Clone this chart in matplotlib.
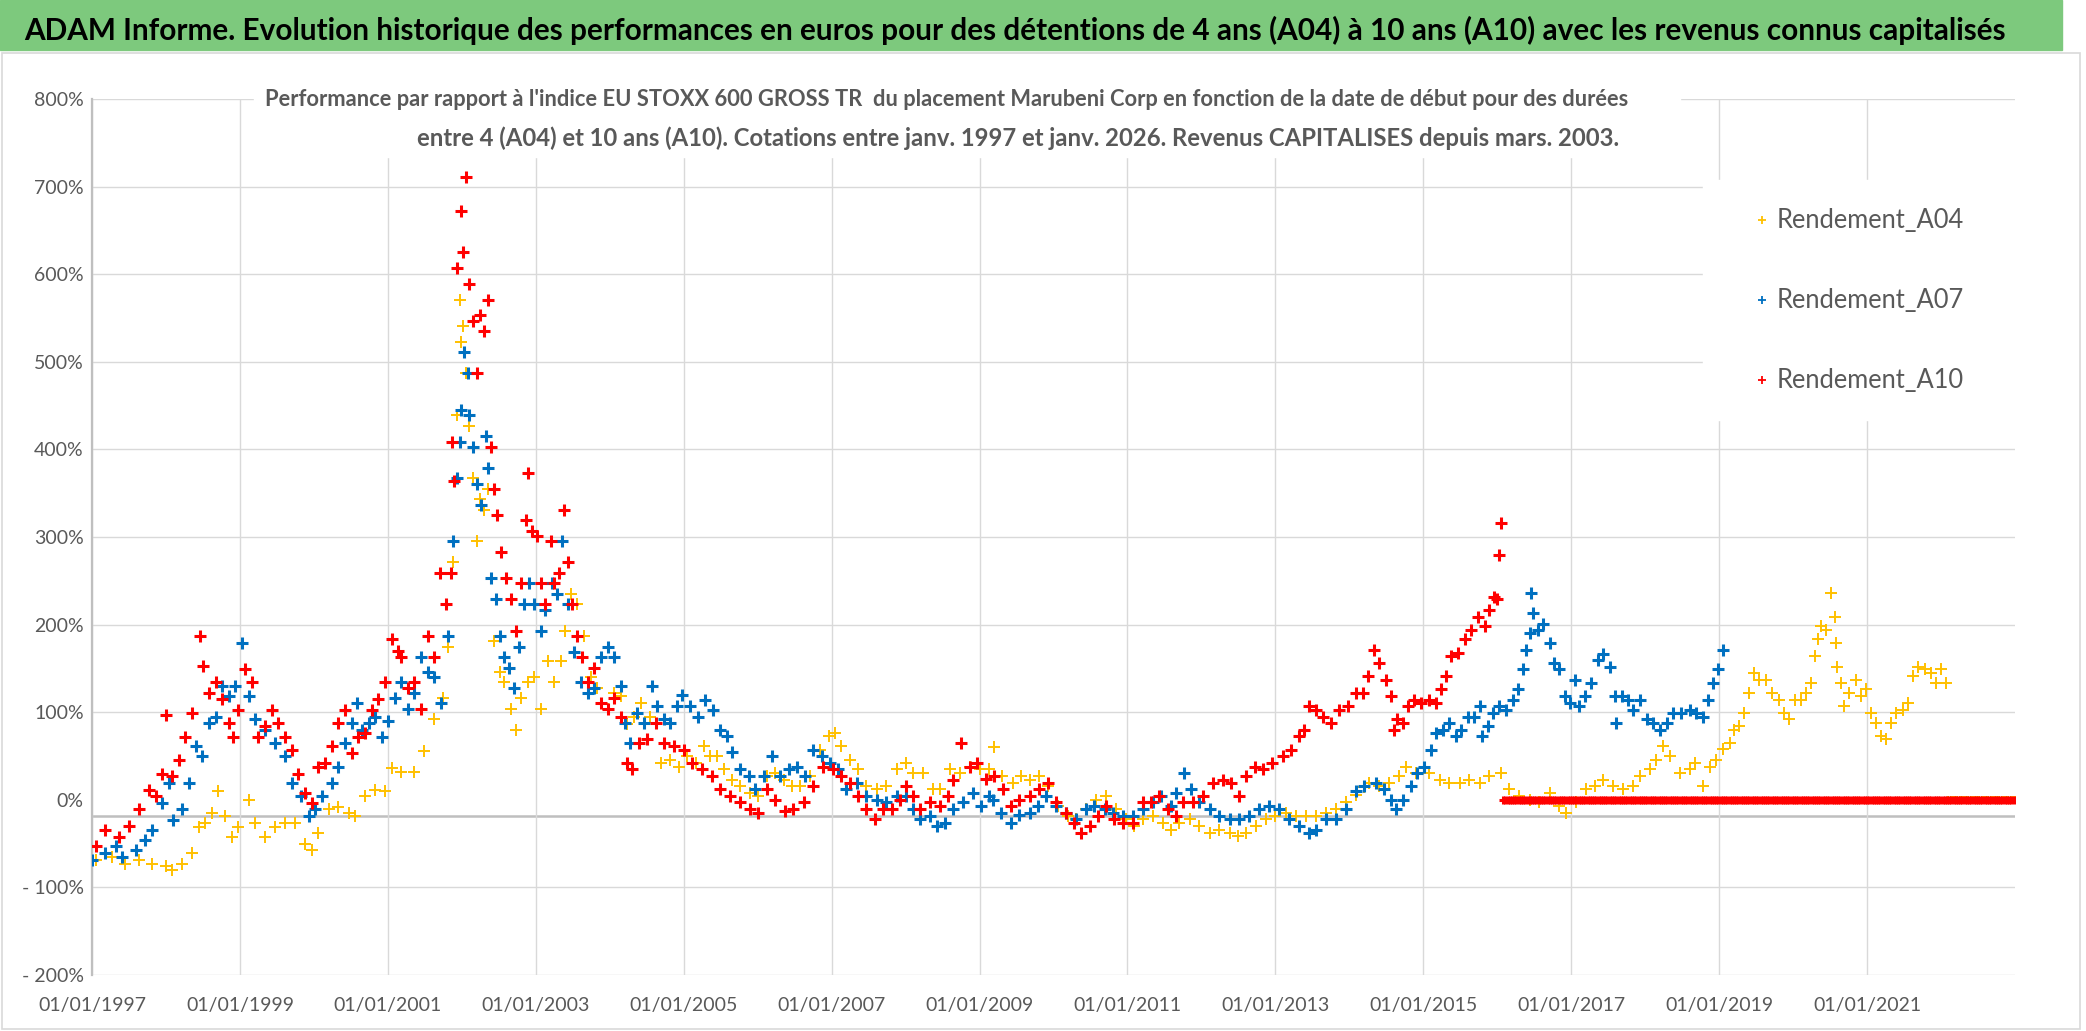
import numpy as np
import matplotlib
matplotlib.use("Agg")
import matplotlib.pyplot as plt
from matplotlib.lines import Line2D
from matplotlib.patches import Rectangle

plt.rcParams["font.family"] = ["Lato", "DejaVu Sans"]

# (decimal year, performance in %)
rendement_a04 = [
    (1997.05, -69), (1997.27, -65), (1997.45, -73), (1997.63, -69), (1997.81, -73),
    (1998.0, -76), (1998.08, -80), (1998.22, -73), (1998.35, -61), (1998.44, -31),
    (1998.53, -27), (1998.62, -15), (1998.71, 10), (1998.8, -19), (1998.89, -42),
    (1998.98, -31), (1999.12, 0), (1999.21, -27), (1999.34, -42), (1999.48, -31),
    (1999.61, -27), (1999.75, -27), (1999.88, -50), (1999.97, -57), (2000.06, -38),
    (2000.2, -11), (2000.33, -8), (2000.47, -15), (2000.56, -19), (2000.69, 4),
    (2000.83, 11), (2000.96, 10), (2001.05, 36), (2001.18, 32), (2001.36, 32),
    (2001.49, 56), (2001.63, 92), (2001.74, 116), (2001.81, 175), (2001.88, 271),
    (2001.94, 439), (2001.97, 571), (2001.99, 523), (2002.01, 541), (2002.06, 487),
    (2002.1, 427), (2002.15, 367), (2002.2, 295), (2002.24, 343), (2002.3, 331),
    (2002.35, 355), (2002.44, 181), (2002.51, 146), (2002.57, 134), (2002.66, 104),
    (2002.73, 80), (2002.8, 116), (2002.89, 134), (2002.98, 140), (2003.07, 104),
    (2003.16, 158), (2003.25, 134), (2003.34, 158), (2003.4, 193), (2003.47, 235),
    (2003.56, 223), (2003.65, 187), (2003.74, 140), (2003.83, 128), (2003.97, 104),
    (2004.06, 122), (2004.15, 118), (2004.24, 86), (2004.33, 95), (2004.42, 111),
    (2004.55, 95), (2004.69, 42), (2004.82, 46), (2004.93, 38), (2005.04, 50),
    (2005.16, 42), (2005.27, 61), (2005.36, 50), (2005.45, 50), (2005.54, 35),
    (2005.65, 23), (2005.76, 16), (2005.9, 8), (2006.01, 4), (2006.12, 27),
    (2006.24, 31), (2006.35, 23), (2006.46, 16), (2006.57, 16), (2006.71, 27),
    (2006.84, 57), (2006.96, 73), (2007.04, 76), (2007.13, 61), (2007.25, 46),
    (2007.36, 35), (2007.47, 16), (2007.61, 12), (2007.74, 16), (2007.88, 35),
    (2008.01, 42), (2008.1, 31), (2008.24, 31), (2008.37, 12), (2008.46, 12),
    (2008.6, 35), (2008.73, 31), (2008.87, 38), (2009.0, 35), (2009.13, 35),
    (2009.2, 60), (2009.31, 27), (2009.45, 19), (2009.56, 27), (2009.68, 23),
    (2009.81, 27), (2009.92, 16), (2010.06, -7), (2010.19, -19), (2010.31, -22),
    (2010.44, -11), (2010.58, 0), (2010.71, 4), (2010.85, -11), (2010.98, -22),
    (2011.09, -30), (2011.21, -22), (2011.34, -19), (2011.48, -26), (2011.59, -34),
    (2011.7, -26), (2011.84, -22), (2011.97, -30), (2012.11, -38), (2012.24, -34),
    (2012.38, -38), (2012.49, -41), (2012.6, -38), (2012.74, -30), (2012.87, -22),
    (2013.0, -19), (2013.14, -15), (2013.28, -19), (2013.41, -19), (2013.55, -19),
    (2013.68, -15), (2013.82, -11), (2013.95, -3), (2014.09, 6), (2014.2, 15),
    (2014.27, 19), (2014.4, 16), (2014.54, 19), (2014.67, 27), (2014.76, 38),
    (2014.9, 31), (2015.08, 31), (2015.22, 23), (2015.35, 19), (2015.49, 19),
    (2015.62, 23), (2015.76, 19), (2015.89, 27), (2016.05, 31), (2016.16, 12),
    (2016.3, 4), (2016.44, 0), (2016.57, -3), (2016.71, 8), (2016.84, -7),
    (2016.93, -15), (2017.07, -3), (2017.2, 12), (2017.32, 16), (2017.43, 23),
    (2017.56, 16), (2017.7, 12), (2017.84, 16), (2017.93, 27), (2018.06, 35),
    (2018.15, 46), (2018.24, 61), (2018.33, 50), (2018.47, 31), (2018.6, 35),
    (2018.67, 42), (2018.78, 16), (2018.87, 38), (2018.96, 46), (2019.05, 58),
    (2019.14, 65), (2019.2, 80), (2019.27, 84), (2019.34, 99), (2019.41, 122),
    (2019.47, 145), (2019.54, 137), (2019.63, 137), (2019.72, 122), (2019.81, 114),
    (2019.88, 99), (2019.95, 92), (2020.02, 114), (2020.11, 114), (2020.17, 122),
    (2020.24, 133), (2020.29, 164), (2020.33, 183), (2020.38, 198), (2020.44, 194),
    (2020.51, 236), (2020.56, 209), (2020.58, 179), (2020.6, 152), (2020.65, 133),
    (2020.69, 107), (2020.76, 122), (2020.85, 137), (2020.92, 118), (2020.99, 126),
    (2021.05, 99), (2021.12, 88), (2021.19, 73), (2021.26, 69), (2021.32, 88),
    (2021.39, 99), (2021.48, 103), (2021.55, 111), (2021.62, 141), (2021.69, 152),
    (2021.78, 149), (2021.87, 145), (2021.93, 133), (2022.0, 149), (2022.07, 133),
]

rendement_a07 = [
    (1997.0, -69), (1997.18, -61), (1997.32, -53), (1997.41, -65), (1997.59, -57),
    (1997.72, -46), (1997.81, -34), (1997.95, -4), (1998.04, 19), (1998.1, -23),
    (1998.22, -11), (1998.31, 19), (1998.4, 61), (1998.49, 50), (1998.58, 88),
    (1998.67, 95), (1998.76, 130), (1998.85, 118), (1998.94, 130), (1999.03, 179),
    (1999.12, 118), (1999.21, 92), (1999.34, 80), (1999.48, 65), (1999.61, 50),
    (1999.7, 19), (1999.82, 4), (1999.93, -19), (2000.02, -11), (2000.11, 4),
    (2000.24, 19), (2000.33, 38), (2000.42, 65), (2000.51, 88), (2000.58, 111),
    (2000.65, 80), (2000.74, 88), (2000.83, 95), (2000.92, 72), (2001.0, 90),
    (2001.09, 116), (2001.18, 134), (2001.27, 104), (2001.36, 122), (2001.45, 163),
    (2001.54, 146), (2001.63, 140), (2001.72, 110), (2001.81, 187), (2001.88, 295),
    (2001.94, 367), (2001.97, 409), (2001.99, 445), (2002.03, 511), (2002.08, 487),
    (2002.1, 439), (2002.15, 403), (2002.2, 361), (2002.26, 337), (2002.33, 415),
    (2002.35, 379), (2002.39, 253), (2002.46, 229), (2002.51, 187), (2002.57, 163),
    (2002.64, 151), (2002.71, 128), (2002.78, 175), (2002.84, 223), (2002.91, 247),
    (2002.98, 223), (2003.07, 193), (2003.13, 217), (2003.22, 247), (2003.29, 235),
    (2003.36, 295), (2003.43, 223), (2003.52, 169), (2003.61, 134), (2003.7, 122),
    (2003.79, 128), (2003.88, 163), (2003.97, 175), (2004.06, 163), (2004.15, 130),
    (2004.2, 88), (2004.28, 65), (2004.37, 99), (2004.46, 88), (2004.57, 130),
    (2004.64, 107), (2004.73, 92), (2004.82, 88), (2004.91, 107), (2004.98, 120),
    (2005.09, 107), (2005.2, 95), (2005.29, 114), (2005.4, 103), (2005.49, 80),
    (2005.58, 73), (2005.65, 54), (2005.76, 35), (2005.88, 27), (2005.97, 12),
    (2006.08, 27), (2006.19, 50), (2006.3, 27), (2006.42, 35), (2006.53, 38),
    (2006.64, 27), (2006.75, 57), (2006.87, 50), (2006.98, 42), (2007.09, 35),
    (2007.2, 12), (2007.34, 19), (2007.47, 4), (2007.61, 0), (2007.74, -3),
    (2007.88, 4), (2008.01, 4), (2008.1, -11), (2008.19, -22), (2008.33, -19),
    (2008.42, -30), (2008.53, -26), (2008.64, -11), (2008.78, -3), (2008.91, 8),
    (2009.02, -7), (2009.13, 4), (2009.18, 0), (2009.29, -15), (2009.43, -26),
    (2009.54, -17), (2009.68, -15), (2009.79, -7), (2009.9, 4), (2010.04, -7),
    (2010.17, -15), (2010.31, -22), (2010.44, -11), (2010.55, -7), (2010.69, -11),
    (2010.8, -15), (2010.94, -19), (2011.07, -19), (2011.21, -11), (2011.34, -3),
    (2011.45, 4), (2011.59, -7), (2011.66, 8), (2011.77, 31), (2011.86, 12),
    (2011.97, -3), (2012.11, -11), (2012.24, -19), (2012.38, -22), (2012.51, -22),
    (2012.65, -19), (2012.78, -11), (2012.92, -7), (2013.05, -11), (2013.19, -22),
    (2013.32, -30), (2013.46, -38), (2013.55, -34), (2013.68, -22), (2013.82, -22),
    (2013.95, -11), (2014.09, 10), (2014.2, 16), (2014.36, 19), (2014.47, 12),
    (2014.56, 0), (2014.63, -11), (2014.72, 0), (2014.83, 16), (2014.92, 31),
    (2015.01, 38), (2015.1, 57), (2015.17, 76), (2015.26, 80), (2015.35, 88),
    (2015.44, 73), (2015.51, 80), (2015.6, 95), (2015.69, 95), (2015.76, 107),
    (2015.8, 73), (2015.87, 84), (2015.94, 99), (2016.03, 107), (2016.12, 103),
    (2016.21, 114), (2016.28, 126), (2016.35, 149), (2016.39, 171), (2016.44, 190),
    (2016.46, 236), (2016.48, 213), (2016.55, 194), (2016.62, 201), (2016.71, 179),
    (2016.77, 156), (2016.84, 149), (2016.91, 118), (2016.98, 111), (2017.05, 137),
    (2017.11, 107), (2017.18, 118), (2017.27, 133), (2017.36, 160), (2017.43, 167),
    (2017.52, 152), (2017.59, 118), (2017.61, 88), (2017.68, 118), (2017.77, 114),
    (2017.84, 103), (2017.93, 114), (2018.02, 92), (2018.11, 88), (2018.2, 80),
    (2018.29, 88), (2018.38, 99), (2018.49, 99), (2018.6, 103), (2018.69, 99),
    (2018.78, 95), (2018.85, 114), (2018.92, 133), (2018.99, 149), (2019.05, 171),
]

rendement_a10 = [
    (1997.05, -53), (1997.18, -34), (1997.36, -42), (1997.5, -30), (1997.63, -10),
    (1997.77, 11), (1997.86, 4), (1997.95, 30), (1998.0, 97), (1998.08, 27),
    (1998.17, 46), (1998.26, 72), (1998.35, 99), (1998.46, 187), (1998.5, 153),
    (1998.58, 122), (1998.67, 134), (1998.76, 115), (1998.85, 88), (1998.91, 72),
    (1998.98, 103), (1999.07, 149), (1999.16, 134), (1999.25, 72), (1999.34, 84),
    (1999.43, 103), (1999.52, 88), (1999.61, 72), (1999.7, 57), (1999.79, 30),
    (1999.88, 8), (1999.97, -4), (2000.06, 38), (2000.15, 42), (2000.24, 61),
    (2000.33, 88), (2000.42, 103), (2000.51, 53), (2000.6, 72), (2000.69, 76),
    (2000.78, 103), (2000.87, 115), (2000.96, 134), (2001.05, 183), (2001.14, 170),
    (2001.18, 163), (2001.27, 128), (2001.36, 134), (2001.45, 104), (2001.54, 187),
    (2001.63, 163), (2001.7, 259), (2001.79, 223), (2001.85, 259), (2001.87, 409),
    (2001.9, 364), (2001.94, 607), (2001.99, 672), (2002.02, 625), (2002.06, 711),
    (2002.1, 589), (2002.15, 547), (2002.2, 487), (2002.24, 553), (2002.3, 535),
    (2002.35, 571), (2002.39, 403), (2002.44, 355), (2002.48, 325), (2002.53, 283),
    (2002.6, 253), (2002.66, 229), (2002.73, 193), (2002.8, 247), (2002.87, 319),
    (2002.89, 373), (2002.95, 307), (2003.02, 301), (2003.07, 247), (2003.13, 223),
    (2003.2, 295), (2003.25, 247), (2003.31, 259), (2003.38, 331), (2003.43, 271),
    (2003.49, 223), (2003.56, 187), (2003.63, 163), (2003.7, 134), (2003.79, 151),
    (2003.88, 110), (2003.97, 104), (2004.06, 116), (2004.15, 95), (2004.24, 42),
    (2004.3, 35), (2004.39, 65), (2004.5, 69), (2004.62, 88), (2004.73, 65),
    (2004.87, 61), (2005.0, 57), (2005.11, 42), (2005.25, 35), (2005.38, 27),
    (2005.49, 12), (2005.63, 4), (2005.76, -3), (2005.9, -11), (2006.01, -15),
    (2006.12, 12), (2006.24, 0), (2006.37, -13), (2006.48, -11), (2006.62, -3),
    (2006.75, 16), (2006.89, 38), (2007.02, 35), (2007.13, 27), (2007.25, 19),
    (2007.36, 4), (2007.47, -11), (2007.58, -22), (2007.7, -11), (2007.81, -11),
    (2007.92, 0), (2008.01, 16), (2008.1, 4), (2008.19, -11), (2008.33, -3),
    (2008.46, -7), (2008.57, 4), (2008.64, 23), (2008.75, 65), (2008.87, 38),
    (2008.96, 42), (2009.09, 24), (2009.2, 27), (2009.32, 12), (2009.43, -7),
    (2009.54, 0), (2009.68, 4), (2009.81, 12), (2009.92, 19), (2010.04, -3),
    (2010.17, -15), (2010.28, -26), (2010.37, -38), (2010.49, -30), (2010.6, -19),
    (2010.71, -7), (2010.82, -22), (2010.94, -26), (2011.07, -26), (2011.21, -3),
    (2011.32, -2), (2011.43, 4), (2011.55, -11), (2011.66, -19), (2011.75, -3),
    (2011.88, -3), (2012.02, 4), (2012.15, 19), (2012.29, 23), (2012.4, 19),
    (2012.51, 4), (2012.6, 27), (2012.72, 38), (2012.83, 35), (2012.96, 42),
    (2013.1, 50), (2013.21, 57), (2013.32, 73), (2013.39, 80), (2013.46, 107),
    (2013.55, 103), (2013.64, 95), (2013.75, 88), (2013.86, 103), (2013.98, 107),
    (2014.09, 122), (2014.18, 122), (2014.25, 141), (2014.34, 171), (2014.4, 156),
    (2014.49, 137), (2014.56, 118), (2014.6, 80), (2014.65, 92), (2014.72, 88),
    (2014.79, 107), (2014.88, 114), (2014.97, 111), (2015.08, 114), (2015.17, 111),
    (2015.24, 126), (2015.31, 141), (2015.37, 164), (2015.47, 168), (2015.56, 183),
    (2015.65, 194), (2015.74, 209), (2015.83, 198), (2015.89, 217), (2015.96, 232),
    (2016.0, 229), (2016.03, 280), (2016.05, 316),
]

# periods where the series sits flat at 0 % (no full holding period yet)
a04_flat_period = (2022.10, 2023.0)
a10_flat_period = (2016.08, 2023.0)

series_names = ["Rendement_A04", "Rendement_A07", "Rendement_A10"]
series_colors = ["#FFC000", "#0070C0", "#FF0000"]

x_ticks = list(range(1997, 2022, 2))
x_tick_labels = [f"01/01/{y}" for y in x_ticks]
y_ticks = list(range(-200, 801, 100))
y_tick_labels = [f"- {abs(v)}%" if v < 0 else f"{v}%" for v in y_ticks]

title = ("ADAM Informe. Evolution historique des performances en euros pour des "
         "détentions de 4 ans (A04) à 10 ans (A10) avec les revenus connus capitalisés")
subtitle_1 = ("Performance par rapport à l'indice EU STOXX 600 GROSS TR  du placement "
              "Marubeni Corp en fonction de la date de début pour des durées")
subtitle_2 = ("entre 4 (A04) et 10 ans (A10). Cotations entre janv. 1997 et janv. 2026. "
              "Revenus CAPITALISES depuis mars. 2003.")

W, H = 2086, 1031
GREY = "#595959"


def fx(px):
    return px / W


def fy(py):
    return 1 - py / H


def fit_width(fig, txt, target_px):
    r = fig.canvas.get_renderer()
    for _ in range(3):
        w = txt.get_window_extent(r).width
        txt.set_fontsize(txt.get_fontsize() * target_px / w)


fig = plt.figure(figsize=(W / 100, H / 100), dpi=100)
ax = fig.add_axes([fx(92), fy(975), fx(2015) - fx(92), fy(99) - fy(975)])

# banner and chart frame
fig.patches.append(Rectangle((0, fy(50)), fx(2062), fy(0) - fy(50),
                             transform=fig.transFigure, color="#7DC97D", zorder=0))
fig.patches.append(Rectangle((fx(2), fy(1029)), fx(2080) - fx(2), fy(53) - fy(1029),
                             transform=fig.transFigure, facecolor="none",
                             edgecolor="#d9d9d9", lw=1.2, zorder=0))

tails = {0: a04_flat_period, 2: a10_flat_period}
for i, (data, color) in enumerate(zip([rendement_a04, rendement_a07, rendement_a10],
                                      series_colors)):
    xs = [d[0] for d in data]
    ys = [d[1] for d in data]
    mew = 1.4 if i == 0 else 2.2
    ax.plot(xs, ys, linestyle="none", marker="+", ms=8, mew=mew, color=color,
            zorder=3 + i)
    if i in tails:
        tx = np.arange(tails[i][0], tails[i][1], 0.03)
        ax.plot(tx, [0.0] * len(tx), linestyle="none", marker="+", ms=5.5,
                mew=mew, color=color, zorder=3 + i)

ax.set_xlim(1997, 2023)
ax.set_ylim(-200, 800)
ax.set_xticks(x_ticks, x_tick_labels)
ax.set_yticks(y_ticks, y_tick_labels)
ax.tick_params(length=0, labelsize=14, colors=GREY)
ax.tick_params(axis="x", pad=16)
ax.tick_params(axis="y", pad=6)
ax.grid(True, color="#d9d9d9", lw=1.0, zorder=0)
for tick in ax.yaxis.get_major_ticks():
    if tick.get_loc() == 0:
        tick.gridline.set_visible(False)
ax.axhline(-19, color="#bfbfbf", lw=1.8, zorder=1)
for side in ["top", "right", "bottom"]:
    ax.spines[side].set_visible(False)
ax.spines["left"].set_color("#bfbfbf")
ax.spines["left"].set_linewidth(1.6)

# white boxes behind subtitle and legend
fig.patches.append(Rectangle((fx(254), fy(157)), fx(1680) - fx(254), fy(78) - fy(157),
                             transform=fig.transFigure, color="white", zorder=2))
fig.patches.append(Rectangle((fx(1703), fy(420)), fx(2016) - fx(1703), fy(180) - fy(420),
                             transform=fig.transFigure, color="white", zorder=2))

t = fig.text(fx(24), fy(30), title, ha="left", va="center", fontsize=20,
             fontweight="bold", color="black", zorder=5)
s1 = fig.text(fx(265), fy(99), subtitle_1, ha="left", va="center", fontsize=16,
              fontweight="bold", color=GREY, zorder=5)
s2 = fig.text(fx(417), fy(138), subtitle_2, ha="left", va="center", fontsize=16,
              fontweight="bold", color=GREY, zorder=5)
fit_width(fig, t, 1983)
fit_width(fig, s1, 1367)
fit_width(fig, s2, 1203)

# legend, drawn by hand so it can sit on its own white box
for name, color, ypx in zip(series_names, series_colors, [220, 300, 380]):
    fig.add_artist(Line2D([fx(1762)], [fy(ypx)], marker="+", ms=6, mew=1.3,
                          color=color, transform=fig.transFigure, zorder=5))
    lt = fig.text(fx(1777), fy(ypx), name, ha="left", va="center", fontsize=20,
                  color=GREY, zorder=5)
    fit_width(fig, lt, 188)

fig.savefig("out.png", dpi=100)
